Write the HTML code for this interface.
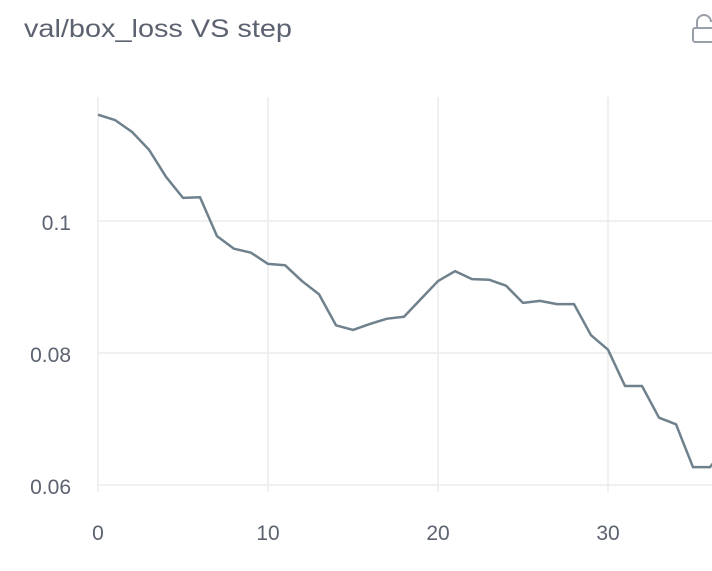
<!DOCTYPE html>
<html><head><meta charset="utf-8"><style>
body{margin:0;width:712px;height:566px;overflow:hidden;background:#fff;font-family:"Liberation Sans",sans-serif}
</style></head><body>
<svg width="712" height="566">
<text x="24" y="37" font-size="25" fill="#5c6270" textLength="268" lengthAdjust="spacingAndGlyphs">val/box_loss VS step</text>
<g fill="none" stroke="#9aa0aa" stroke-width="2">
<rect x="693" y="28" width="22" height="14" rx="2"/><path d="M697 28 v-6 a7 7 0 0 1 14 0"/>
</g>
<g id="grid"></g><g id="axes"></g><g id="series"></g>
</svg>
<script>
const steps=[0,1,2,3,4,5,6,7,8,9,10,11,12,13,14,15,16,17,18,19,20,21,22,23,24,25,26,27,28,29,30,31,32,33,34,35,36,37];
const loss=[0.1161,0.1153,0.1135,0.1108,0.1067,0.1035,0.1036,0.0977,0.0958,0.0952,0.0935,0.0933,0.0909,0.0889,0.0842,0.0835,0.0844,0.0852,0.0855,0.0882,0.0909,0.0924,0.0912,0.0911,0.0902,0.0876,0.0879,0.0874,0.0874,0.0827,0.0805,0.0750,0.0750,0.0702,0.0692,0.0627,0.0627,0.0660];
const xTicks=[0,10,20,30];
const yTicks=[0.06,0.08,0.1];
const yTickLabels=["0.06","0.08","0.1"];
const NS="http://www.w3.org/2000/svg";
const xs=v=>98+v*17;
const ys=v=>485-(v-0.06)*6600;
function mk(t,a,p){const e=document.createElementNS(NS,t);for(const k in a)e.setAttribute(k,a[k]);p.appendChild(e);return e;}
const grid=document.getElementById('grid'),axes=document.getElementById('axes'),series=document.getElementById('series');
xTicks.forEach(t=>{
 const l=mk('line',{x1:xs(t),x2:xs(t),y1:97,y2:492,stroke:'#ececec','stroke-width':1.5},grid);
 
 
 const tx=mk('text',{x:xs(t),y:540,'font-size':21,fill:'#5c6270','text-anchor':'middle'},axes);
 tx.textContent=t;
 
 
});
yTicks.forEach((t,i)=>{
 const l=mk('line',{x1:98,x2:712,y1:ys(t),y2:ys(t),stroke:'#ececec','stroke-width':1.5},grid);
 
 
 const tx=mk('text',{x:71,y:ys(t)+9,'font-size':21,fill:'#5c6270','text-anchor':'end'},axes);
 tx.textContent=yTickLabels[i];
 
 
});
const pts=steps.map((s,i)=>xs(s)+','+ys(loss[i])).join(' ');
const pl=mk('polyline',{points:pts,fill:'none',stroke:'#6f818c','stroke-width':2.5,'stroke-linejoin':'round'},series);


</script>
</body></html>
